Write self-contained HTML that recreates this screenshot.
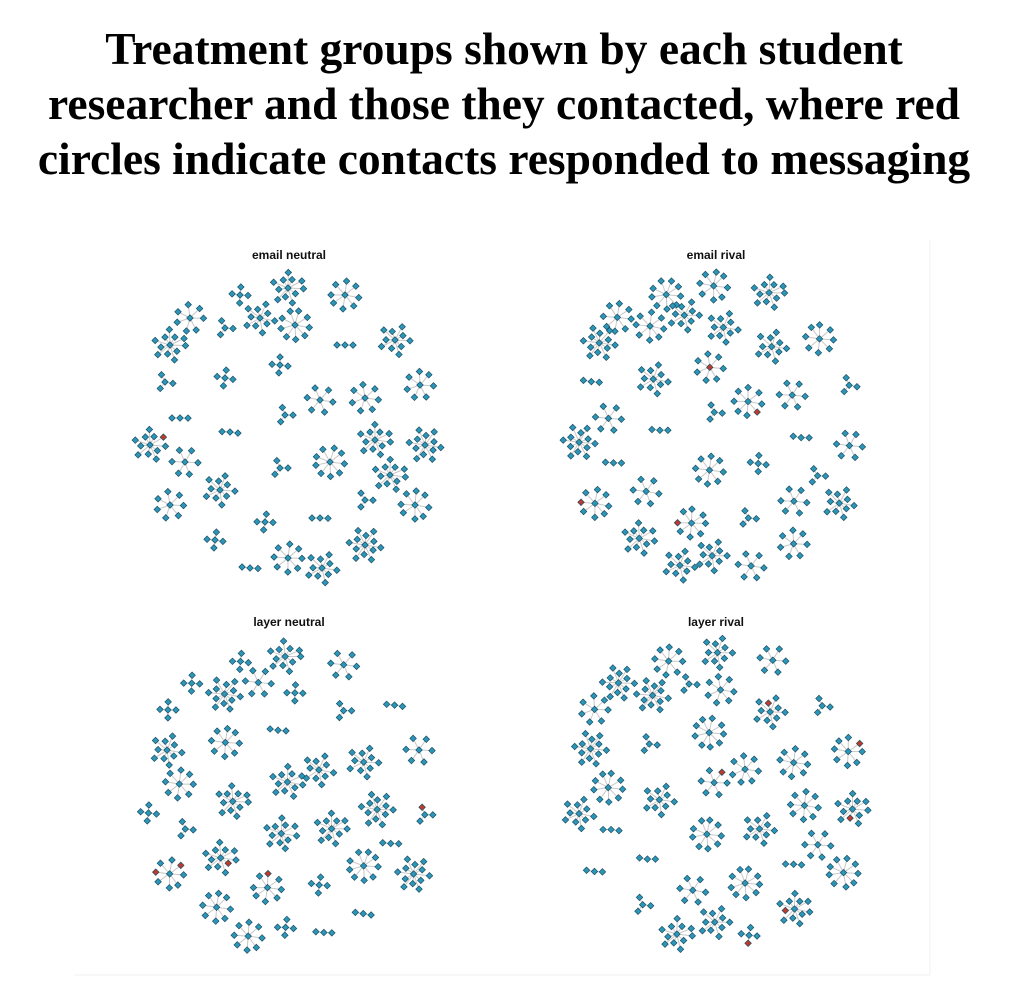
<!DOCTYPE html>
<html><head><meta charset="utf-8"><style>
body{margin:0;background:#fff;width:1024px;height:986px;overflow:hidden}
h1{position:absolute;top:21px;left:-8px;width:1024px;margin:0;text-align:center;font-family:"Liberation Serif",serif;font-weight:bold;font-size:45.5px;line-height:55px;color:#000;white-space:nowrap}
svg{position:absolute;left:0;top:0}
</style></head><body>
<h1>Treatment groups shown by each student<br>researcher and those they contacted, where red<br>circles indicate contacts responded to messaging</h1>
<svg id="s" width="1024" height="986" xmlns="http://www.w3.org/2000/svg">
<line x1="930" y1="240" x2="930" y2="975" stroke="#f0f0f0"/>
<line x1="75" y1="975" x2="930" y2="975" stroke="#f0f0f0"/>
<g font-family="Liberation Sans,sans-serif" font-weight="bold" font-size="12" text-anchor="middle" fill="#111">
<text x="289" y="259">email neutral</text><text x="716" y="259">email rival</text>
<text x="289" y="626">layer neutral</text><text x="716" y="626">layer rival</text></g>
<g id="g"></g>
</svg>
<script>
var base=[[240,295],[288,288],[345,295],[225,328],[295,325],[190,318],[345,345],[395,340],[280,365],[225,378],[165,382],[420,385],[365,398],[320,400],[180,418],[230,432],[150,445],[285,415],[375,440],[425,445],[185,462],[280,468],[330,462],[390,475],[170,505],[220,490],[365,500],[415,505],[215,540],[265,522],[320,518],[365,545],[250,568],[288,558],[322,568],[170,345],[260,318]];
var seed=7;function r(){seed=(seed*16807)%2147483647;return seed/2147483647;}
var out='';
var offs=[[0,0],[427,0],[0,367],[427,367]];
offs.forEach(function(o,pi){
 base.forEach(function(c,ci){
  var cx=c[0]+o[0]+(pi?(r()-0.5)*6:0),cy=c[1]+o[1]+(pi?(r()-0.5)*6:0);
  var n=r()<0.3?Math.floor(2+r()*3):Math.floor(6+r()*7);
  var rad=n<5?8:10+n*0.5;
  var pts=[];
  for(var i=0;i<n;i++){var a=i/n*6.283+r()*0.2;var rr=rad*(n>9&&i%2?0.6:1);pts.push([cx+Math.cos(a)*rr,cy+Math.sin(a)*rr]);}
  pts.forEach(function(p){out+='<line x1="'+cx+'" y1="'+cy+'" x2="'+p[0]+'" y2="'+p[1]+'" stroke="#c8c8c8" stroke-width="1"/>';});
  var all=[[cx,cy]].concat(pts);
  all.forEach(function(p){var red=r()<0.012;out+='<rect x="'+(p[0]-2.3)+'" y="'+(p[1]-2.3)+'" width="4.6" height="4.6" transform="rotate(45 '+p[0]+' '+p[1]+')" fill="'+(red?'#c0392b':'#2b96b8')+'" stroke="#1d4f63" stroke-width="0.7"/>';});
 });
});
document.getElementById('g').innerHTML=out;
</script>
</body></html>
